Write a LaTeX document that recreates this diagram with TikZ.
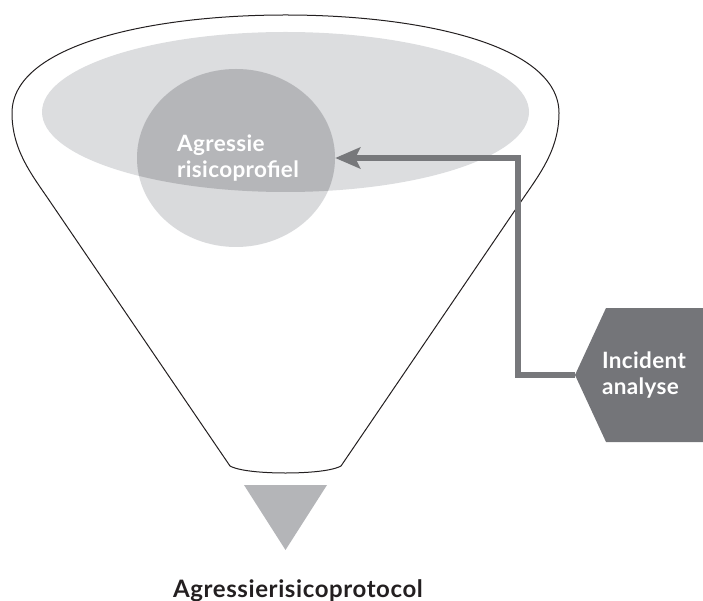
\documentclass[tikz,border=0pt]{standalone}
\usepackage{fontspec}
\setmainfont{Lato}
\usetikzlibrary{arrows.meta,shapes.geometric}
\definecolor{ellc}{HTML}{DCDDDF}
\definecolor{circc}{HTML}{D9DADC}
\definecolor{overc}{HTML}{B5B6B9}
\definecolor{tric}{HTML}{B4B5B8}
\definecolor{arrc}{HTML}{77787B}
\definecolor{hexc}{HTML}{747579}
\definecolor{inkc}{HTML}{231F20}
\tikzset{
  funnel/.style={draw=inkc, line width=1pt, line join=round},
  whitetext/.style={text=white, font=\bfseries\fontsize{22.5}{26.5}\selectfont\addfontfeatures{LetterSpace=1.5}, align=left, inner sep=0pt},
  connector/.style={draw=arrc, line width=5.5pt, line join=miter, -{Stealth[length=25pt,width=21pt,inset=5pt]}},
}
\begin{document}
\begin{tikzpicture}[x=1pt, y=-1pt]
\useasboundingbox (0,0) rectangle (703,601);
% funnel outline
\draw[funnel] (230,466) -- (49,200) .. controls (32,175) and (12,150) .. (12,113)
  .. controls (12,45) and (150,15) .. (285.5,15)
  .. controls (421,15) and (559,45) .. (559,113)
  .. controls (559,150) and (539,175) .. (522,200) -- (341,466)
  .. controls (330,472) and (300,473) .. (285.5,473)
  .. controls (271,473) and (241,472) .. (230,466) -- cycle;
% big ellipse
\fill[ellc] (285.5,112) ellipse [x radius=243.5, y radius=80];
% circle
\node (prof) [ellipse, minimum width=198pt, minimum height=178pt, inner sep=0pt, fill=circc] at (236,158) {};
\begin{scope}
  \clip (285.5,112) ellipse [x radius=243.5, y radius=80];
  \fill[overc] (236,158) ellipse [x radius=99, y radius=89];
\end{scope}
\node (proftext) [whitetext] at (238,158) {Agressie\\risicoprofiel};
% incident hexagon
\fill[hexc] (575,375) -- (606,308) -- (703,308) -- (703,442) -- (606,442) -- cycle;
\coordinate (hexL) at (575,375);
\node (inc) [whitetext] at (644,375) {Incident\\analyse};
% connector
\coordinate (bend) at (518,158);
\draw[connector] (hexL) -| (bend) -- (prof.east);
% triangle
\fill[tric] (244,485) -- (327,485) -- (285.5,550) -- cycle;
% bottom label
\node (proto) [anchor=base, text=inkc, font=\bfseries\fontsize{24}{28}\selectfont\addfontfeatures{LetterSpace=2.5}, inner sep=0pt] at (298,597) {Agressierisicoprotocol};
\end{tikzpicture}
\end{document}
